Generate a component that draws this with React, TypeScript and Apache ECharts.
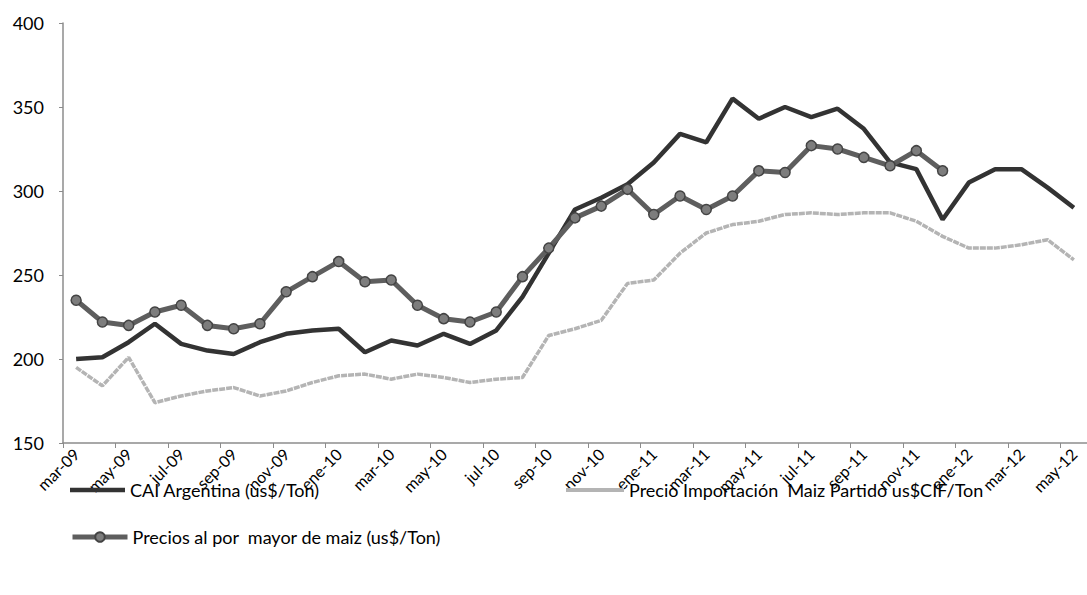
import React, { useEffect, useRef } from "react";
import * as echarts from "echarts";

const months = [
  "mar-09", "abr-09", "may-09", "jun-09", "jul-09", "ago-09", "sep-09", "oct-09", "nov-09", "dic-09",
  "ene-10", "feb-10", "mar-10", "abr-10", "may-10", "jun-10", "jul-10", "ago-10", "sep-10", "oct-10",
  "nov-10", "dic-10", "ene-11", "feb-11", "mar-11", "abr-11", "may-11", "jun-11", "jul-11", "ago-11",
  "sep-11", "oct-11", "nov-11", "dic-11", "ene-12", "feb-12", "mar-12", "abr-12", "may-12",
];

const caiArgentina = [
  200, 201, 210, 221, 209, 205, 203, 210, 215, 217,
  218, 204, 211, 208, 215, 209, 217, 237, 263, 289,
  296, 304, 317, 334, 329, 355, 343, 350, 344, 349,
  337, 317, 313, 283, 305, 313, 313, 302, 290,
];

const precioImportacion = [
  195, 184, 201, 174, 178, 181, 183, 178, 181, 186,
  190, 191, 188, 191, 189, 186, 188, 189, 214, 218,
  223, 245, 247, 263, 275, 280, 282, 286, 287, 286,
  287, 287, 282, 273, 266, 266, 268, 271, 259,
];

const preciosMayor = [
  235, 222, 220, 228, 232, 220, 218, 221, 240, 249,
  258, 246, 247, 232, 224, 222, 228, 249, 266, 284,
  291, 301, 286, 297, 289, 297, 312, 311, 327, 325,
  320, 315, 324, 312, null, null, null, null, null,
];

const yTicks = { min: 150, max: 400, interval: 50 };

const S_CAI = "CAI Argentina (us$/Ton)";
const S_IMP = "Precio Importación  Maiz Partido us$CIF/Ton";
const S_MAY = "Precios al por  mayor de maiz (us$/Ton)";

const FONT = "Lato, 'Open Sans', sans-serif";

export default function App() {
  const ref = useRef<HTMLDivElement>(null);
  useEffect(() => {
    document.body.style.margin = "0";
    const chart = echarts.init(ref.current!, null, { renderer: "svg" });
    const legendText = { color: "#000", fontSize: 18, fontFamily: FONT };
    chart.setOption({
      animation: false,
      backgroundColor: "#fff",
      textStyle: { fontFamily: FONT },
      grid: { left: 63, top: 23, width: 1036, height: 420 },
      legend: [
        {
          data: [{ name: S_CAI, icon: "rect", itemStyle: { color: "#333" } }],
          left: 70, top: 481, padding: 0, itemWidth: 55, itemHeight: 4.5,
          textStyle: legendText,
        },
        {
          data: [{ name: S_IMP, icon: "rect", itemStyle: { color: "#b4b4b4" } }],
          left: 566, top: 481, padding: 0, itemWidth: 58, itemHeight: 4,
          textStyle: legendText,
        },
        {
          data: [S_MAY], left: 70, top: 528, padding: 0, itemWidth: 55, itemHeight: 12,
          lineStyle: { width: 5, color: "#5e5e5e" },
          textStyle: legendText,
        },
      ],
      xAxis: {
        type: "category",
        data: months,
        boundaryGap: true,
        axisLine: { lineStyle: { color: "#8c8c8c", width: 1.5 } },
        axisTick: { show: true, interval: 1, length: 5, lineStyle: { color: "#8c8c8c" } },
        axisLabel: {
          interval: 1, rotate: 45, color: "#000", fontSize: 16, fontFamily: FONT, margin: 8,
        },
        splitLine: { show: false },
      },
      yAxis: {
        type: "value",
        min: yTicks.min,
        max: yTicks.max,
        interval: yTicks.interval,
        axisLine: { show: true, lineStyle: { color: "#8c8c8c", width: 1.5 } },
        axisTick: { show: true, length: 4, lineStyle: { color: "#8c8c8c" } },
        axisLabel: { color: "#000", fontSize: 18, fontFamily: FONT, margin: 19 },
        splitLine: { show: false },
      },
      series: [
        {
          name: S_CAI,
          type: "line",
          data: caiArgentina,
          showSymbol: false,
          symbol: "none",
          itemStyle: { color: "#333" },
          lineStyle: { color: "#333", width: 4.5 },
        },
        {
          name: S_IMP,
          type: "line",
          data: precioImportacion,
          showSymbol: false,
          symbol: "none",
          itemStyle: { color: "#b4b4b4" },
          lineStyle: { color: "#b4b4b4", width: 3.5, type: [6, 1] },
        },
        {
          name: S_MAY,
          type: "line",
          data: preciosMayor,
          symbol: "circle",
          symbolSize: 10,
          showSymbol: true,
          itemStyle: { color: "#7d7d7d", borderColor: "#444", borderWidth: 1.5 },
          lineStyle: { color: "#5e5e5e", width: 5 },
        },
      ],
    });
    return () => chart.dispose();
  }, []);
  return <div ref={ref} style={{ width: 1087, height: 595 }} />;
}
